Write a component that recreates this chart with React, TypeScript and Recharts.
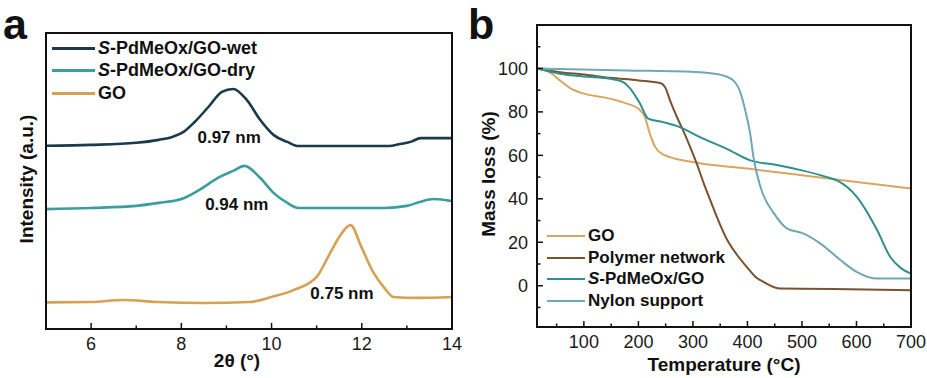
import React from "react";
import { LineChart, Line, XAxis, YAxis, ReferenceDot, Legend } from "recharts";

const FONT = '"Liberation Sans", Arial, Helvetica, sans-serif';

// ---- panel a: XRD patterns, stacked (intensity in arbitrary units) ----
const xrdNames = ["S-PdMeOx/GO-wet", "S-PdMeOx/GO-dry", "GO"];
const xrdColors = ["#1b3a4b", "#3a9e9e", "#d6a152"];
const xrdWet: [number, number][] = [
  [5, 61.9], [6, 62.2], [7, 62.9], [7.5, 63.9], [7.8, 64.9], [8.05, 66.6], [8.3, 70.0], [8.6, 75.0],
  [8.9, 80.1], [9.15, 81.1], [9.45, 77.4], [9.75, 70.6], [10.05, 65.5], [10.35, 63.2], [10.6, 61.8],
  [12.6, 61.8], [12.85, 62.5], [13.1, 63.3], [13.3, 64.5], [14, 64.5],
];
const xrdDry: [number, number][] = [
  [5, 40.5], [6, 40.9], [7, 41.6], [7.5, 42.6], [8, 43.9], [8.4, 47.0], [8.85, 51.4], [9.15, 53.4],
  [9.4, 55.1], [9.75, 51.0], [10.05, 45.9], [10.35, 42.6], [10.6, 40.9], [12.5, 40.9], [13, 41.6],
  [13.3, 43.0], [13.6, 43.9], [14, 43.2],
];
const xrdGO: [number, number][] = [
  [5, 9.0], [6, 9.1], [6.7, 9.8], [7.5, 9.1], [8.5, 8.8], [9.5, 9.1], [10, 10.8], [10.5, 13.2],
  [11, 17.6], [11.3, 25.7], [11.5, 31.1], [11.75, 35.1], [12.0, 27.4], [12.25, 19.3], [12.5, 13.9],
  [12.7, 10.8], [13.2, 10.5], [14, 10.8],
];
const xrdTicks = [6, 7, 8, 9, 10, 11, 12, 13, 14];
const dLabels = ["0.97 nm", "0.94 nm", "0.75 nm"];
const dTheta = [9.06, 9.23, 11.56];
const dLevel = [64.9, 42.2, 12.2];

// ---- panel b: TGA ----
const tgaNames = ["GO", "Polymer network", "S-PdMeOx/GO", "Nylon support"];
const tgaColors = ["#d9a560", "#7b5230", "#2e8f8f", "#6ea8b3"];
const tgaGO: [number, number][] = [
  [14, 100], [37, 98.3], [56, 94.5], [74, 91.1], [100, 88.4], [135, 86.8], [160, 85.3], [179, 83.8],
  [200, 81.5], [212, 77.6], [221, 70], [231, 63.8], [245, 60.5], [300, 56.9], [400, 53.9],
  [500, 50.8], [600, 47.7], [700, 44.7],
];
const tgaPolymer: [number, number][] = [
  [14, 100], [56, 98.3], [100, 97.2], [148, 95.7], [200, 94.5], [240, 93.3], [249, 91.4], [258, 85.3],
  [270, 78], [282, 71.5], [295, 63.8], [307, 56.2], [320, 47], [332, 39.3], [345, 31], [362, 21.5],
  [380, 14.5], [399, 8.6], [415, 4], [430, 1.7], [460, -1.3], [557, -1.5], [700, -2.1],
];
const tgaSPd: [number, number][] = [
  [14, 100], [56, 97.6], [100, 96.3], [148, 95.3], [172, 93.7], [185, 90.7], [203, 83.8], [218, 76.9],
  [245, 75.3], [276, 73], [313, 68.4], [362, 63], [405, 57.7], [454, 55.6], [500, 53.1], [546, 50],
  [564, 48.5], [601, 40.8], [638, 25.5], [662, 13.2], [682, 8], [700, 5.6],
];
const tgaNylon: [number, number][] = [
  [14, 100], [179, 99.1], [313, 98.3], [355, 96.8], [374, 94.5], [387, 89], [396, 80.7], [405, 70],
  [411, 59.2], [424, 45.4], [449, 33.2], [473, 26.3], [503, 24], [534, 19.4], [571, 11.7],
  [601, 6.3], [638, 3.3], [700, 3.3],
];
const tgaXTicks = [50, 100, 150, 200, 250, 300, 350, 400, 450, 500, 550, 600, 650, 700];
const tgaYTicks = [-10, 0, 10, 20, 30, 40, 50, 60, 70, 80, 90, 100, 110];

const toRows = (pts: [number, number][]) => pts.map(([x, y]) => ({ x, y }));
const frameLine = { stroke: "#111", strokeWidth: 2 };

function renderName(name: string) {
  if (name.startsWith("S-")) {
    return (
      <>
        <i>S</i>
        {name.slice(1)}
      </>
    );
  }
  return name;
}

// legend keeps the series order of the figure (recharts would sort it by name)
function makeLegend(names: string[], colors: string[], lineW: number, lineH: number, rowH: number, fontSize: number) {
  return () => (
    <div style={{ fontFamily: FONT, fontWeight: "bold", fontSize, color: "#111" }}>
      {names.map((n, i) => (
        <div key={n} style={{ display: "flex", alignItems: "center", height: rowH, whiteSpace: "nowrap" }}>
          <span style={{ display: "inline-block", width: lineW, height: lineH, background: colors[i], marginRight: 3 }} />
          <span>{renderName(n)}</span>
        </div>
      ))}
    </div>
  );
}

const BottomTick = (every: number) => (props: any) => {
  const { x, y, payload } = props;
  const v = payload.value;
  const major = v % every === 0;
  return (
    <g>
      <line x1={x} x2={x} y1={y} y2={y - (major ? 6 : 3.5)} stroke="#111" strokeWidth={1.5} />
      {major && (
        <text x={x} y={y + 21} textAnchor="middle" fontSize={18} fill="#1a1a1a">
          {v}
        </text>
      )}
    </g>
  );
};

const LeftTick = (props: any) => {
  const { x, y, payload } = props;
  const v = payload.value;
  const major = v % 20 === 0 && v >= 0 && v <= 100;
  return (
    <g>
      <line x1={x} x2={x + (major ? 6 : 3.5)} y1={y} y2={y} stroke="#111" strokeWidth={1.5} />
      {major && (
        <text x={x - 9} y={y + 6.5} textAnchor="end" fontSize={18} fill="#1a1a1a">
          {v}
        </text>
      )}
    </g>
  );
};

export default function App() {
  const xrdSeries = [xrdWet, xrdDry, xrdGO];
  const tgaSeries = [tgaGO, tgaPolymer, tgaSPd, tgaNylon];
  return (
    <div style={{ position: "absolute", left: 0, top: 0, width: 927, height: 378, background: "#fff", fontFamily: FONT }}>
      <div style={{ position: "absolute", left: 0, top: 0 }}>
        <LineChart width={470} height={378} margin={{ top: 33, right: 18, bottom: 0, left: 45 }}>
          <XAxis
            dataKey="x"
            type="number"
            domain={[5, 14]}
            ticks={xrdTicks}
            allowDataOverflow
            height={49}
            axisLine={frameLine}
            tickLine={false}
            tickSize={0}
            tickMargin={0}
            interval={0}
            tick={BottomTick(2)}
          />
          <YAxis type="number" domain={[0, 100]} allowDataOverflow width={1} tick={false} tickLine={false} axisLine={frameLine} />
          {xrdSeries.map((s, i) => (
            <Line
              key={xrdNames[i]}
              data={toRows(s)}
              dataKey="y"
              name={xrdNames[i]}
              type="monotone"
              stroke={xrdColors[i]}
              strokeWidth={2.6}
              dot={false}
              isAnimationActive={false}
            />
          ))}
          {dLabels.map((t, i) => (
            <ReferenceDot
              key={t}
              x={dTheta[i]}
              y={dLevel[i]}
              r={0}
              fill="none"
              stroke="none"
              label={{ value: t, position: "center", fontSize: 17, fontWeight: "bold", fill: "#111" }}
            />
          ))}
          <Legend
            layout="vertical"
            align="center"
            verticalAlign="middle"
            content={makeLegend(xrdNames, xrdColors, 43, 3, 22.5, 18)}
            wrapperStyle={{ left: 52, top: 37, width: "auto" }}
          />
        </LineChart>
      </div>
      <div style={{ position: "absolute", left: 470, top: 0 }}>
        <LineChart width={457} height={378} margin={{ top: 25, right: 16, bottom: 0, left: 0 }}>
          <XAxis
            dataKey="x"
            type="number"
            domain={[14, 700]}
            ticks={tgaXTicks}
            allowDataOverflow
            height={51}
            axisLine={frameLine}
            tickLine={false}
            tickSize={0}
            tickMargin={0}
            interval={0}
            tick={BottomTick(100)}
          />
          <YAxis
            type="number"
            domain={[-19, 120]}
            ticks={tgaYTicks}
            allowDataOverflow
            width={67}
            axisLine={frameLine}
            tickLine={false}
            tickSize={0}
            tickMargin={0}
            interval={0}
            tick={LeftTick}
          />
          {tgaSeries.map((s, i) => (
            <Line
              key={tgaNames[i]}
              data={toRows(s)}
              dataKey="y"
              name={tgaNames[i]}
              type="monotone"
              stroke={tgaColors[i]}
              strokeWidth={2}
              dot={false}
              isAnimationActive={false}
            />
          ))}
          <Legend
            layout="vertical"
            align="center"
            verticalAlign="middle"
            content={makeLegend(tgaNames, tgaColors, 38, 2, 21.7, 17)}
            wrapperStyle={{ left: 77, top: 225, width: "auto" }}
          />
        </LineChart>
      </div>
      <svg width={927} height={378} style={{ position: "absolute", left: 0, top: 0, pointerEvents: "none" }}>
        {/* panel frames (top and right edges of the plot boxes) */}
        <rect x={46} y={33} width={406} height={296} fill="none" stroke="#111" strokeWidth={2} />
        <rect x={537} y={25} width={374} height={302} fill="none" stroke="#111" strokeWidth={2} />
        <g fontFamily={FONT} fontWeight="bold" fill="#111">
          <text x={3} y={39} fontSize={43}>a</text>
          <text x={468} y={39} fontSize={43}>b</text>
          <text x={237} y={367} fontSize={19} textAnchor="middle">2θ (°)</text>
          <text x={724} y={371} fontSize={19} textAnchor="middle">Temperature (°C)</text>
          <text x={33} y={179} fontSize={19} textAnchor="middle" transform="rotate(-90 33 179)">
            Intensity (a.u.)
          </text>
          <text x={495} y={174} fontSize={19} textAnchor="middle" transform="rotate(-90 495 174)">
            Mass loss (%)
          </text>
        </g>
      </svg>
    </div>
  );
}
